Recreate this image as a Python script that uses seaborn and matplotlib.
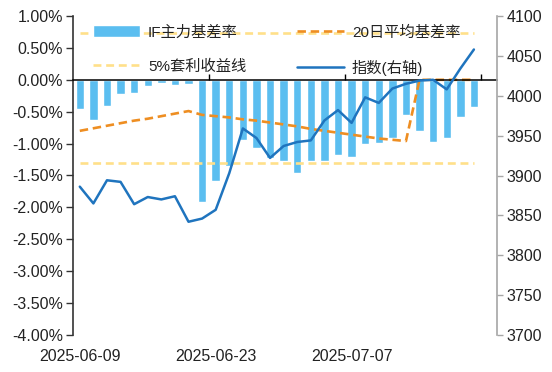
import pandas as pd
import matplotlib
matplotlib.use("Agg")
import matplotlib.pyplot as plt
import seaborn as sns

dates = ["2025-06-09", "2025-06-10", "2025-06-11", "2025-06-12", "2025-06-13",
         "2025-06-16", "2025-06-17", "2025-06-18", "2025-06-19", "2025-06-20",
         "2025-06-23", "2025-06-24", "2025-06-25", "2025-06-26", "2025-06-27",
         "2025-06-30", "2025-07-01", "2025-07-02", "2025-07-03", "2025-07-04",
         "2025-07-07", "2025-07-08", "2025-07-09", "2025-07-10", "2025-07-11",
         "2025-07-14", "2025-07-15", "2025-07-16", "2025-07-17", "2025-07-18"]

# IF main contract basis rate (%)
basis = [-0.45, -0.63, -0.41, -0.225, -0.21, -0.105, -0.05, -0.08, -0.07, -1.91,
         -1.58, -1.35, -0.95, -1.07, -1.23, -1.28, -1.46, -1.28, -1.28, -1.18,
         -1.21, -1.01, -0.99, -0.92, -0.55, -0.80, -0.97, -0.92, -0.58, -0.42]

# 20-day average basis rate (%)
basis_ma20 = [-0.80, -0.76, -0.72, -0.68, -0.64, -0.61, -0.57, -0.53, -0.49, -0.55,
              -0.57, -0.59, -0.62, -0.64, -0.67, -0.70, -0.73, -0.77, -0.80, -0.83,
              -0.86, -0.89, -0.92, -0.94, -0.96, 0.0, 0.0, 0.0, 0.0, 0.0]

# index level (right axis)
index_close = [3886, 3865, 3894, 3892, 3864, 3873, 3870, 3874, 3842, 3846,
               3857, 3903, 3959, 3947, 3922, 3937, 3942, 3944, 3969, 3982,
               3966, 3998, 3991, 4009, 4015, 4019, 4020, 4008, 4034, 4058]

# 5% arbitrage return lines (%)
arb_upper = 0.74
arb_lower = -1.31

label_dates = ["2025-06-09", "2025-06-23", "2025-07-07"]

df = pd.DataFrame({"date": dates, "basis": basis, "ma20": basis_ma20,
                   "index": index_close})
df["pos"] = range(len(df))
df["arb_up"] = arb_upper
df["arb_low"] = arb_lower

bar_c = "#5BBEF0"
orange = "#EE8E22"
yellow = "#FFE08A"
blue = "#1F74BE"
txt = "#222222"

sns.set_style("white")
plt.rcParams["font.family"] = ["Liberation Sans", "Noto Sans CJK SC"]
plt.rcParams["axes.unicode_minus"] = False

fig = plt.figure(figsize=(5.52, 3.72), dpi=100)
ax = fig.add_axes([73 / 552, 1 - 335 / 372, (497 - 73) / 552, (335 - 16) / 372])

sns.barplot(data=df, x="pos", y="basis", color=bar_c, saturation=1, width=0.62,
            ax=ax, label="IF主力基差率")
sns.lineplot(data=df, x="pos", y="arb_up", ax=ax, color=yellow, lw=1.9,
             linestyle=(0, (3.0, 1.8)), label="5%套利收益线")
sns.lineplot(data=df, x="pos", y="arb_low", ax=ax, color=yellow, lw=1.9,
             linestyle=(0, (3.0, 1.8)))
sns.lineplot(data=df, x="pos", y="ma20", ax=ax, color=orange, lw=1.9,
             linestyle=(0, (3.2, 1.8)), label="20日平均基差率")
if ax.get_legend():
    ax.get_legend().remove()

ax.set_xlim(-0.5, 30.7)
ax.set_ylim(-4, 1)
ax.set_yticks([1, 0.5, 0, -0.5, -1, -1.5, -2, -2.5, -3, -3.5, -4])
ax.yaxis.set_major_formatter(matplotlib.ticker.FuncFormatter(lambda v, p: f"{v:.2f}%"))
ax.set_xticks([dates.index(d) for d in label_dates], label_dates)
ax.set_xlabel("")
ax.set_ylabel("")
ax.tick_params(axis="x", length=0, pad=10, labelsize=11.5, labelcolor=txt)
ax.tick_params(axis="y", direction="out", length=5, width=1, pad=2,
               labelsize=11.5, labelcolor=txt, color="#333333", left=True)
for s in ["top", "right", "bottom"]:
    ax.spines[s].set_visible(False)
ax.spines["left"].set_color("#333333")
ax.spines["left"].set_linewidth(1.2)

# zero line with upward ticks between categories
zero = ax.secondary_xaxis((0 - (-4)) / 5)
zero.set_xticks([9.5, 19.5, 29.5], ["", "", ""])
zero.tick_params(direction="out", length=4, width=1, color="black")
for s in zero.spines.values():
    s.set_color("black")
    s.set_linewidth(1.1)
zero.set_zorder(3)

ax2 = ax.twinx()
sns.lineplot(data=df, x="pos", y="index", ax=ax2, color=blue, lw=1.8,
             label="指数(右轴)")
if ax2.get_legend():
    ax2.get_legend().remove()
ax2.set_ylim(3700, 4100)
ax2.set_yticks(range(3700, 4101, 50))
ax2.set_ylabel("")
ax2.set_xlim(-0.5, 30.7)
for s in ["top", "left", "bottom"]:
    ax2.spines[s].set_visible(False)
ax2.spines["right"].set_color("#A6A6A6")
ax2.spines["right"].set_linewidth(1.2)
ax2.tick_params(axis="y", direction="out", length=4, width=1, pad=3,
                labelsize=11.5, labelcolor=txt, color="#A6A6A6", right=True)

h1, l1 = ax.get_legend_handles_labels()
h2, l2 = ax2.get_legend_handles_labels()
hd = dict(zip(l1 + l2, h1 + h2))
order = ["IF主力基差率", "5%套利收益线", "20日平均基差率", "指数(右轴)"]
ax2.legend([hd[k] for k in order], order, ncol=2, loc="upper left",
           bbox_to_anchor=(0.033, 0.99), frameon=False, fontsize=11,
           handlelength=3.1, handleheight=0.85, handletextpad=0.5,
           columnspacing=3.3, labelspacing=1.3, borderaxespad=0,
           labelcolor=txt)

fig.savefig("out.png", dpi=100)
